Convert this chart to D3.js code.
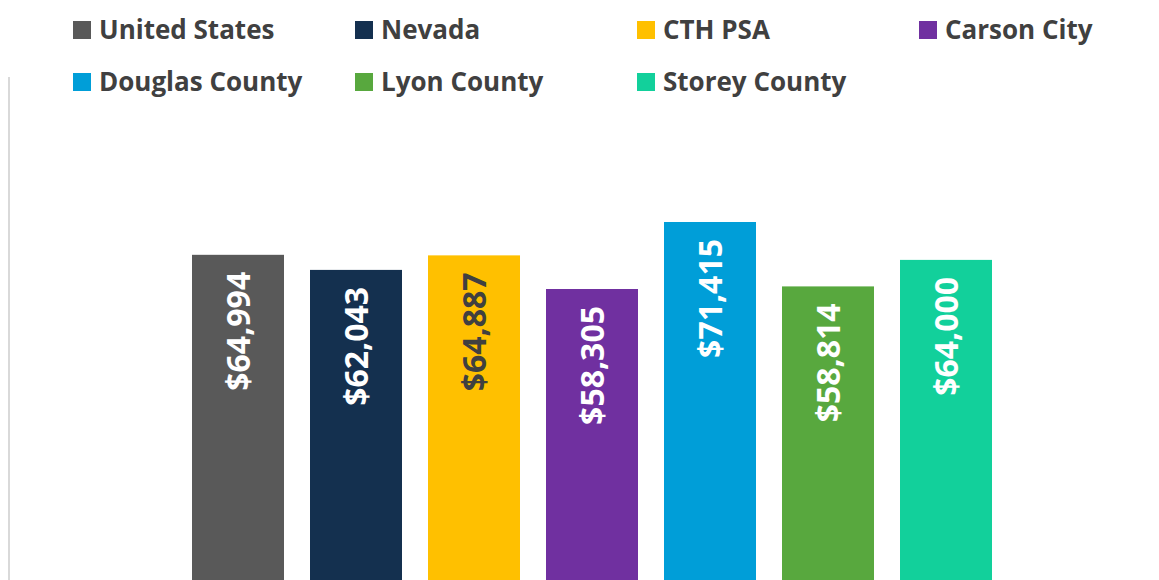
<!DOCTYPE html>
<html><head><meta charset="utf-8">
<script src="https://cdn.jsdelivr.net/npm/d3@7/dist/d3.min.js"></script>
<style>html,body{margin:0;padding:0;background:#fff;overflow:hidden}</style>
</head><body>
<svg id="chart" width="1159" height="580"></svg>
<script>
const categories = ["United States","Nevada","CTH PSA","Carson City","Douglas County","Lyon County","Storey County"];
const values = [64994, 62043, 64887, 58305, 71415, 58814, 64000];
const valueLabels = ["$64,994","$62,043","$64,887","$58,305","$71,415","$58,814","$64,000"];
const colors = ["#595959","#14304f","#ffc000","#7030a0","#009ed8","#58a83e","#12d09b"];
const labelColors = ["#ffffff","#ffffff","#404040","#ffffff","#ffffff","#ffffff","#ffffff"];

const svg = d3.select("#chart");
const baseline = 587;
const y = d3.scaleLinear().domain([0, 80000]).range([baseline, baseline - 80000 * 0.005111]);
const pi = 26/118;
const x = d3.scaleBand().domain(categories).range([179, 1005]).paddingInner(pi).paddingOuter(pi/2);

// left axis line
svg.append("line").attr("x1",9).attr("x2",9).attr("y1",77).attr("y2",580)
  .attr("stroke","#d9d9d9").attr("stroke-width",2);

svg.selectAll("rect.bar").data(categories).join("rect").attr("class","bar")
  .attr("x", d => x(d)).attr("width", x.bandwidth())
  .attr("y", (d,i) => y(values[i])).attr("height", (d,i) => y(0) - y(values[i]))
  .attr("fill", (d,i) => colors[i]);

svg.selectAll("text.val").data(categories).join("text").attr("class","val")
  .attr("transform", (d,i) => `translate(${x(d) + x.bandwidth()/2},${y(values[i]) + 17}) rotate(-90)`)
  .attr("text-anchor","end").attr("dy","0.36em")
  .attr("font-family","'Open Sans', sans-serif").attr("font-weight","bold")
  .attr("font-size", 32).attr("fill", (d,i) => labelColors[i])
  .text((d,i) => valueLabels[i]);

// legend
const legCols = [73, 355, 637, 919];
const legRows = [30, 82];
const lg = svg.selectAll("g.leg").data(categories).join("g").attr("class","leg")
  .attr("transform", (d,i) => `translate(${legCols[i % 4]},${legRows[Math.floor(i/4)]})`);
lg.append("rect").attr("x",0).attr("y",-9).attr("width",18).attr("height",18).attr("fill",(d,i)=>colors[i]);
lg.append("text").attr("x",26).attr("dy","0.36em")
  .attr("font-family","'Open Sans', sans-serif").attr("font-weight","bold")
  .attr("font-size",26).attr("fill","#404040").text(d => d);
</script>
</body></html>
